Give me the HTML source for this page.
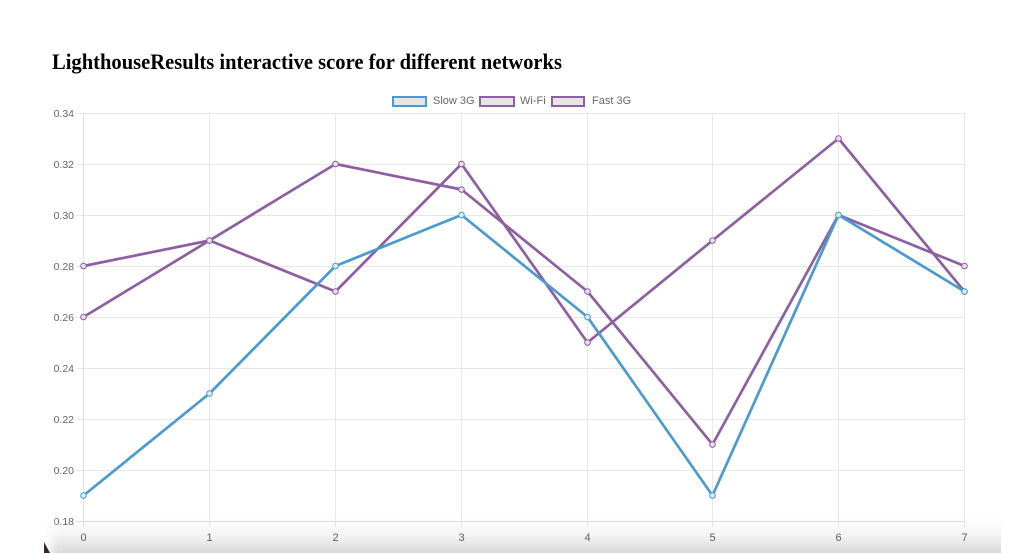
<!DOCTYPE html>
<html>
<head>
<meta charset="utf-8">
<style>
  html,body{margin:0;padding:0;background:#fff;}
  body{width:1024px;height:553px;overflow:hidden;position:relative;}
  svg{position:absolute;left:0;top:0;}
</style>
</head>
<body>
<svg width="1024" height="553" viewBox="0 0 1024 553" xmlns="http://www.w3.org/2000/svg">
  <defs>
    <linearGradient id="shade" x1="0" y1="0" x2="0" y2="1">
      <stop offset="0" stop-color="#000" stop-opacity="0"/>
      <stop offset="0.5" stop-color="#000" stop-opacity="0.04"/>
      <stop offset="1" stop-color="#000" stop-opacity="0.15"/>
    </linearGradient>
    <linearGradient id="shadeL" x1="0" y1="0" x2="1" y2="0">
      <stop offset="0" stop-color="#fff" stop-opacity="1"/>
      <stop offset="1" stop-color="#fff" stop-opacity="0"/>
    </linearGradient>
  </defs>

  <!-- Title -->
  <text x="52" y="69" font-family="Liberation Serif, serif" font-weight="bold" font-size="22" fill="#000" textLength="510" lengthAdjust="spacingAndGlyphs">LighthouseResults interactive score for different networks</text>

  <!-- Legend -->
  <g font-family="Liberation Sans, sans-serif" font-size="11" fill="#666">
    <rect x="393" y="97" width="33" height="9" fill="#e6e6e6" stroke="#4a9ad2" stroke-width="2"/>
    <text x="433" y="104">Slow 3G</text>
    <rect x="480" y="97" width="34" height="9" fill="#e6e6e6" stroke="#8e5ea2" stroke-width="2"/>
    <text x="520" y="104">Wi-Fi</text>
    <rect x="552" y="97" width="32" height="9" fill="#e6e6e6" stroke="#8e5ea2" stroke-width="2"/>
    <text x="592" y="104">Fast 3G</text>
  </g>

  <!-- Grid -->
  <g stroke="#e8e8e8" stroke-width="1" shape-rendering="crispEdges">
    <line x1="76" y1="113.5" x2="964" y2="113.5"/>
    <line x1="76" y1="164.5" x2="964" y2="164.5"/>
    <line x1="76" y1="215.5" x2="964" y2="215.5"/>
    <line x1="76" y1="266.5" x2="964" y2="266.5"/>
    <line x1="76" y1="317.5" x2="964" y2="317.5"/>
    <line x1="76" y1="368.5" x2="964" y2="368.5"/>
    <line x1="76" y1="419.5" x2="964" y2="419.5"/>
    <line x1="76" y1="470.5" x2="964" y2="470.5"/>
    <line x1="76" y1="521.5" x2="964" y2="521.5" stroke="#e0e0e0"/>
    <line x1="83.5" y1="113" x2="83.5" y2="527" stroke="#e0e0e0"/>
    <line x1="209.5" y1="113" x2="209.5" y2="527"/>
    <line x1="335.5" y1="113" x2="335.5" y2="527"/>
    <line x1="461.5" y1="113" x2="461.5" y2="527"/>
    <line x1="587.5" y1="113" x2="587.5" y2="527"/>
    <line x1="712.5" y1="113" x2="712.5" y2="527"/>
    <line x1="838.5" y1="113" x2="838.5" y2="527"/>
    <line x1="964.5" y1="113" x2="964.5" y2="527"/>
  </g>

  <!-- Y labels -->
  <g font-family="Liberation Sans, sans-serif" font-size="10.5" fill="#666" text-anchor="end">
    <text x="74" y="117">0.34</text>
    <text x="74" y="168">0.32</text>
    <text x="74" y="219">0.30</text>
    <text x="74" y="270">0.28</text>
    <text x="74" y="321">0.26</text>
    <text x="74" y="372">0.24</text>
    <text x="74" y="423">0.22</text>
    <text x="74" y="474">0.20</text>
    <text x="74" y="525">0.18</text>
  </g>
  <!-- X labels -->
  <g font-family="Liberation Sans, sans-serif" font-size="11" fill="#666" text-anchor="middle">
    <text x="83.5" y="541">0</text>
    <text x="209.5" y="541">1</text>
    <text x="335.5" y="541">2</text>
    <text x="461.5" y="541">3</text>
    <text x="587.5" y="541">4</text>
    <text x="712.5" y="541">5</text>
    <text x="838.5" y="541">6</text>
    <text x="964.5" y="541">7</text>
  </g>

  <!-- Series: Fast 3G -->
  <g fill="none" stroke="#8e5ea2" stroke-width="2.7" stroke-linejoin="round">
    <polyline points="83.5,317 209.5,240.5 335.5,291.5 461.5,164 587.5,342.5 712.5,240.5 838.5,138.5 964.5,291.5"/>
  </g>
  <g fill="#e8e0ec" stroke="#8e5ea2" stroke-width="1">
    <circle cx="83.5" cy="317" r="2.8"/><circle cx="209.5" cy="240.5" r="2.8"/><circle cx="335.5" cy="291.5" r="2.8"/><circle cx="461.5" cy="164" r="2.8"/><circle cx="587.5" cy="342.5" r="2.8"/><circle cx="712.5" cy="240.5" r="2.8"/><circle cx="838.5" cy="138.5" r="2.8"/><circle cx="964.5" cy="291.5" r="2.8"/>
  </g>
  <!-- Series: Wi-Fi -->
  <g fill="none" stroke="#8e5ea2" stroke-width="2.7" stroke-linejoin="round">
    <polyline points="83.5,266 209.5,240.5 335.5,164 461.5,189.5 587.5,291.5 712.5,444.5 838.5,215 964.5,266"/>
  </g>
  <g fill="#e8e0ec" stroke="#8e5ea2" stroke-width="1">
    <circle cx="83.5" cy="266" r="2.8"/><circle cx="209.5" cy="240.5" r="2.8"/><circle cx="335.5" cy="164" r="2.8"/><circle cx="461.5" cy="189.5" r="2.8"/><circle cx="587.5" cy="291.5" r="2.8"/><circle cx="712.5" cy="444.5" r="2.8"/><circle cx="838.5" cy="215" r="2.8"/><circle cx="964.5" cy="266" r="2.8"/>
  </g>
  <!-- Series: Slow 3G -->
  <g fill="none" stroke="#4a9ad2" stroke-width="2.7" stroke-linejoin="round">
    <polyline points="83.5,495.5 209.5,393.5 335.5,266 461.5,215 587.5,317 712.5,495.5 838.5,215 964.5,291.5"/>
  </g>
  <g fill="#dcebf5" stroke="#4a9ad2" stroke-width="1">
    <circle cx="83.5" cy="495.5" r="2.8"/><circle cx="209.5" cy="393.5" r="2.8"/><circle cx="335.5" cy="266" r="2.8"/><circle cx="461.5" cy="215" r="2.8"/><circle cx="587.5" cy="317" r="2.8"/><circle cx="712.5" cy="495.5" r="2.8"/><circle cx="838.5" cy="215" r="2.8"/><circle cx="964.5" cy="291.5" r="2.8"/>
  </g>

  <!-- bottom shadow overlay -->
  <rect x="44" y="516" width="957" height="37" fill="url(#shade)"/>
  <rect x="44" y="516" width="14" height="37" fill="url(#shadeL)"/>
  <polygon points="44,542 44,553 50,553" fill="#3a2222"/>
</svg>
</body>
</html>
